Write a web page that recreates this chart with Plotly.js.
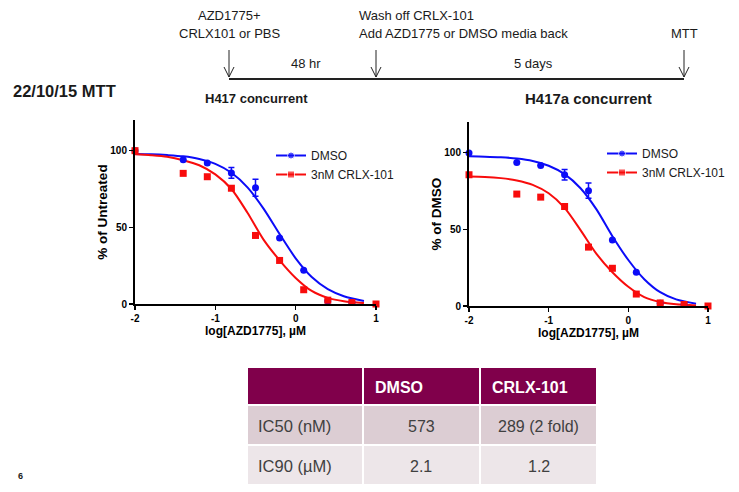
<!DOCTYPE html>
<html>
<head>
<meta charset="utf-8">
<script src="https://cdn.plot.ly/plotly-3.0.1.min.js"></script>
<style>html,body{margin:0;padding:0;background:#fff;}#chart{width:739px;height:492px;}</style>
</head>
<body>
<div id="chart"></div>
<script>
// ---------- data ----------
const seriesNames = ['DMSO', '3nM CRLX-101'];
const xDmso = [-2, -1.4, -1.1, -0.8, -0.5, -0.2, 0.1, 0.4, 0.7];
const xCrlx = [-2, -1.4, -1.1, -0.8, -0.5, -0.2, 0.1, 0.4, 0.7, 1.0];

// left panel: % of Untreated
const dmsoLeft = [100, 94, 92, 85.5, 75.8, 43, 22, 2, 1];
const dmsoLeftErr = [0, 0, 0, 3.5, 5.5, 0, 0, 0, 0];
const crlxLeft = [100, 85.2, 83, 75.5, 44.7, 28.4, 9.3, 2.5, 1, 0];

// right panel: % of DMSO
const dmsoRight = [99.8, 93.6, 91.6, 85.6, 75.2, 43, 22, 1.8, 1];
const dmsoRightErr = [0, 0, 0, 3.5, 5, 0, 0, 0, 0];
const crlxRight = [85.6, 73, 71, 64.9, 38.4, 24.6, 7.8, 2, 1, 0];

// fitted curves
const fitX = [-2, -1.8, -1.6, -1.4, -1.2, -1.0, -0.8, -0.6, -0.4, -0.2, 0, 0.2, 0.4, 0.6, 0.85];
const fitDmsoLeft = [97.8, 97.6, 97.1, 96.3, 94.6, 91.4, 85.6, 76.1, 62.2, 45.6, 29.8, 17.6, 9.7, 5.1, 2.0];
const fitCrlxLeft = [97.6, 97.0, 96.0, 93.8, 90.5, 84.5, 75.0, 59.5, 42.0, 28.5, 17.0, 8.5, 4.0, 1.8, 0.6];
const fitDmsoRight = [97.6, 97.4, 97.0, 96.2, 94.6, 91.5, 86.0, 76.8, 63.0, 45.5, 30.0, 17.5, 9.0, 4.3, 1.5];
const fitCrlxRight = [84.5, 84.2, 83.4, 81.9, 79.0, 73.5, 64.0, 49.5, 34.0, 22.0, 12.5, 5.8, 2.6, 1.1, 0.4];

const xTickVals = [-2, -1, 0, 1];
const xTickText = ['-2', '-1', '0', '1'];
const yTickVals = [0, 50, 100];
const yTickText = ['0', '50', '100'];

// table
const tableHeader = ['', 'DMSO', 'CRLX-101'];
const tableRowLabels = ['IC50 (nM)', 'IC90 (\u00B5M)'];
const tableDmso = ['573', '2.1'];
const tableCrlx = ['289 (2 fold)', '1.2'];

// ---------- helpers ----------
const W = 739, H = 492;
const px = v => v / W;
const py = v => 1 - v / H;
const FONT = 'Arial, "Liberation Sans", sans-serif';
const BLUE = '#0c0cf8', RED = '#f80c0c';

function curveTrace(x, y, name, color, xa, ya, leg) {
  return {
    type: 'scatter', mode: 'lines+markers', x: x, y: y, name: name,
    xaxis: xa, yaxis: ya, legend: leg, showlegend: true,
    line: {color: color, width: 2, shape: 'spline', smoothing: 0.8},
    marker: {color: color, symbol: name === seriesNames[0] ? 'circle' : 'square',
             size: x.map(() => 7), sizeref: 10000, sizemode: 'diameter'},
    hoverinfo: 'skip', cliponaxis: false
  };
}
function pointTrace(x, y, err, color, symbol, xa, ya) {
  const t = {
    type: 'scatter', mode: 'markers', x: x, y: y, xaxis: xa, yaxis: ya,
    showlegend: false, cliponaxis: false,
    marker: {color: color, symbol: symbol, size: 7}
  };
  if (err) t.error_y = {type: 'data', array: err, visible: true, color: color, thickness: 1.5, width: 3};
  return t;
}

// table geometry (pixels)
const tblLeft = 247, tblRight = 597, tblTop = 367, tblBottom = 487;
const colW = [116, 117, 117];
const headerH = 38, rowH = 40;

const traces = [
  curveTrace(fitX, fitDmsoLeft, seriesNames[0], BLUE, 'x', 'y', 'legend'),
  curveTrace(fitX, fitCrlxLeft, seriesNames[1], RED, 'x', 'y', 'legend'),
  pointTrace(xDmso, dmsoLeft, dmsoLeftErr, BLUE, 'circle', 'x', 'y'),
  pointTrace(xCrlx, crlxLeft, null, RED, 'square', 'x', 'y'),
  curveTrace(fitX, fitDmsoRight, seriesNames[0], BLUE, 'x2', 'y2', 'legend2'),
  curveTrace(fitX, fitCrlxRight, seriesNames[1], RED, 'x2', 'y2', 'legend2'),
  pointTrace(xDmso, dmsoRight, dmsoRightErr, BLUE, 'circle', 'x2', 'y2'),
  pointTrace(xCrlx, crlxRight, null, RED, 'square', 'x2', 'y2'),
  {
    type: 'table',
    domain: {x: [px(tblLeft), px(tblRight)], y: [py(tblBottom), py(tblTop)]},
    columnwidth: colW,
    header: {
      values: tableHeader.map(() => ''),
      height: headerH,
      fill: {color: '#80004b'},
      line: {color: '#ffffff', width: 2}
    },
    cells: {
      values: [tableRowLabels.map(() => ''), tableDmso.map(() => ''), tableCrlx.map(() => '')],
      height: rowH,
      fill: {color: [['#dccdd3', '#ede6e9'], ['#dccdd3', '#ede6e9'], ['#dccdd3', '#ede6e9']]},
      line: {color: '#ffffff', width: 2}
    }
  }
];

function xAxis(domain) {
  return {
    domain: domain, range: [-2, 1], showgrid: false, zeroline: false,
    showline: true, linecolor: '#000', linewidth: 2,
    ticks: 'outside', ticklen: 4, tickwidth: 1.5, tickcolor: '#000',
    tickvals: xTickVals, ticktext: xTickText,
    tickfont: {family: FONT, size: 10, color: '#000', weight: 'bold'},
    title: {text: 'log[AZD1775], \u00B5M', standoff: 3,
            font: {family: FONT, size: 12, color: '#000', weight: 'bold'}},
    fixedrange: true
  };
}
function yAxis(domain, anchor, title) {
  return {
    domain: domain, range: [0, 120], anchor: anchor, showgrid: false, zeroline: false,
    showline: true, linecolor: '#000', linewidth: 2,
    ticks: 'outside', ticklen: 4, tickwidth: 1.5, tickcolor: '#000',
    tickvals: yTickVals, ticktext: yTickText,
    tickfont: {family: FONT, size: 10, color: '#000', weight: 'bold'},
    title: {text: title, standoff: 0,
            font: {family: FONT, size: 13.5, color: '#000', weight: 'bold'}},
    fixedrange: true
  };
}

function txt(text, x, y, anchor, size, bold, color) {
  return {
    xref: 'paper', yref: 'paper', x: px(x), y: py(y), xanchor: anchor, yanchor: 'middle',
    text: bold ? '<b>' + text + '</b>' : text, showarrow: false,
    font: {family: FONT, size: size, color: color || '#1a1a1a'}
  };
}
function arrowPath(x, y0, y1) {
  return 'M' + px(x) + ',' + py(y0) + ' L' + px(x) + ',' + py(y1) +
         ' M' + px(x - 5) + ',' + py(y1 - 10) + ' L' + px(x) + ',' + py(y1) +
         ' L' + px(x + 5) + ',' + py(y1 - 10);
}

// table text annotations built from the table arrays
const colX0 = [tblLeft, tblLeft + colW[0], tblLeft + colW[0] + colW[1]];
const tableAnn = [];
tableHeader.forEach((h, i) => {
  if (h) tableAnn.push(txt(h, colX0[i] + 10, tblTop + headerH / 2 + 1, 'left', 16, true, '#ffffff'));
});
[tableRowLabels, tableDmso, tableCrlx].forEach((col, ci) => {
  col.forEach((v, ri) => {
    const yc = tblTop + headerH + rowH * ri + rowH / 2 + 1;
    if (ci === 0) tableAnn.push(txt(v, colX0[0] + 9, yc, 'left', 16.5, false, '#404040'));
    else tableAnn.push(txt(v, colX0[ci] + colW[ci] / 2, yc, 'center', 16, false, '#404040'));
  });
});

const layout = {
  width: W, height: H,
  margin: {l: 0, r: 0, t: 0, b: 0},
  paper_bgcolor: '#ffffff', plot_bgcolor: '#ffffff',
  font: {family: FONT},
  xaxis: Object.assign(xAxis([px(135), px(376)]), {anchor: 'y'}),
  yaxis: yAxis([py(304), py(120)], 'x', '% of Untreated'),
  xaxis2: Object.assign(xAxis([px(469), px(708)]), {anchor: 'y2'}),
  yaxis2: yAxis([py(306), py(122)], 'x2', '% of DMSO'),
  legend: {x: px(271), y: py(141), xanchor: 'left', yanchor: 'top', bgcolor: 'rgba(0,0,0,0)',
           font: {family: FONT, size: 12, color: '#1a1a1a'}, tracegroupgap: 0},
  legend2: {x: px(602), y: py(139), xanchor: 'left', yanchor: 'top', bgcolor: 'rgba(0,0,0,0)',
            font: {family: FONT, size: 12, color: '#1a1a1a'}, tracegroupgap: 0},
  shapes: [
    {type: 'path', xref: 'paper', yref: 'paper', path: arrowPath(229, 50, 77), line: {color: '#222', width: 1}},
    {type: 'path', xref: 'paper', yref: 'paper', path: arrowPath(376, 50, 77), line: {color: '#222', width: 1}},
    {type: 'path', xref: 'paper', yref: 'paper', path: arrowPath(684, 50, 77), line: {color: '#222', width: 1}},
    {type: 'line', xref: 'paper', yref: 'paper', x0: px(229), x1: px(684), y0: py(79), y1: py(79),
     line: {color: '#222', width: 2}}
  ],
  annotations: [
    txt('AZD1775+', 229, 15, 'center', 13),
    txt('CRLX101 or PBS', 229, 33, 'center', 13),
    txt('Wash off CRLX-101', 357, 15, 'left', 13),
    txt('Add AZD1775 or DMSO media back', 357, 33, 'left', 13),
    txt('MTT', 684, 33, 'center', 13),
    txt('48 hr', 306, 63, 'center', 13),
    txt('5 days', 533, 63, 'center', 13),
    txt('22/10/15 MTT', 11, 91, 'left', 16.5, true),
    txt('H417 concurrent', 203, 98, 'left', 13, true),
    txt('H417a concurrent', 523, 99, 'left', 15, true),
    txt('6', 20, 476, 'center', 9, true)
  ].concat(tableAnn)
};

Plotly.newPlot('chart', traces, layout, {staticPlot: true, displayModeBar: false});
</script>
</body>
</html>
